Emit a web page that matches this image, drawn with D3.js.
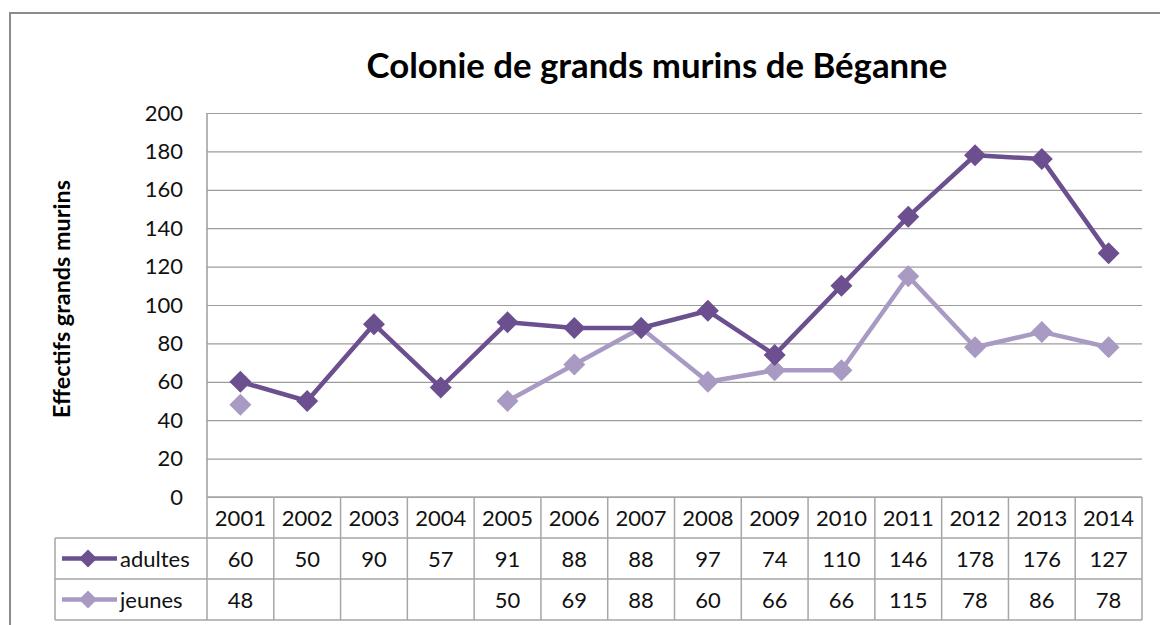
<!DOCTYPE html>
<html>
<head>
<meta charset="utf-8">
<script src="https://cdn.jsdelivr.net/npm/d3@7"></script>
<style>
  html, body { margin: 0; padding: 0; background: #fff; }
  svg { display: block; font-family: Lato, "Open Sans", sans-serif; }
</style>
</head>
<body>
<svg id="chart" width="1160" height="625"></svg>
<script>
const title = "Colonie de grands murins de Béganne";
const yTitle = "Effectifs grands murins";
const years = ["2001","2002","2003","2004","2005","2006","2007","2008","2009","2010","2011","2012","2013","2014"];
const adultes = [60, 50, 90, 57, 91, 88, 88, 97, 74, 110, 146, 178, 176, 127];
const jeunes = [48, null, null, null, 50, 69, 88, 60, 66, 66, 115, 78, 86, 78];
const yTicks = [0, 20, 40, 60, 80, 100, 120, 140, 160, 180, 200];
const seriesNames = ["adultes", "jeunes"];
const seriesColors = ["#6b4f8f", "#a99ac3"];

(function () {
const svg = d3.select("#chart");
const pLeft = 207, pRight = 1142, pTop = 113, pBottom = 497;
const rowH = 41;
const legendLeft = 55;

// outer frame
svg.append("rect").attr("x", 10).attr("y", 13).attr("width", 1200).attr("height", 700)
  .attr("fill", "none").attr("stroke", "#8c8c8c").attr("stroke-width", 2);

const x = d3.scaleBand().domain(years).range([pLeft, pRight]);
const y = d3.scaleLinear().domain([0, 200]).range([pBottom, pTop]);

// title
const t = svg.append("text").attr("x", 657).attr("y", 78).attr("text-anchor", "middle")
  .attr("font-weight", "bold").attr("font-size", 30).attr("fill", "#000").text(title);
let w = t.node().getComputedTextLength();
t.attr("font-size", 30 * 581 / w);

// y axis with grid
const yAxis = d3.axisLeft(y).tickValues(yTicks).tickSize(-(pRight - pLeft)).tickPadding(24);
const gy = svg.append("g").attr("transform", `translate(${pLeft},0)`).call(yAxis);
gy.select(".domain").remove();
gy.selectAll(".tick line").attr("stroke", "#9c9c9c").attr("stroke-width", 1.2);
gy.selectAll(".tick text").attr("font-size", 22).attr("fill", "#111")
  .attr("font-family", "Lato, 'Open Sans', sans-serif");
svg.append("line").attr("x1", pLeft).attr("x2", pLeft).attr("y1", pTop).attr("y2", pBottom)
  .attr("stroke", "#9c9c9c").attr("stroke-width", 1.5);

// y title
const yt = svg.append("text").attr("transform", `translate(70,299) rotate(-90)`)
  .attr("text-anchor", "middle").attr("font-weight", "bold").attr("font-size", 20)
  .attr("fill", "#000").text(yTitle);
w = yt.node().getComputedTextLength();
yt.attr("font-size", 20 * 238 / w);

// series
const data = [adultes, jeunes];
const cx = (i) => x(years[i]) + x.bandwidth() / 2;
function diamondPath(r) { return `M0,${-r}L${r},0L0,${r}L${-r},0Z`; }

const line = d3.line().defined(d => d != null).x((d, i) => cx(i)).y(d => y(d));
[1, 0].forEach(s => {
  const vals = data[s];
  svg.append("path").datum(vals).attr("d", line).attr("fill", "none")
    .attr("stroke", seriesColors[s]).attr("stroke-width", 4.5).attr("stroke-linejoin", "round");
  svg.append("g").selectAll("path").data(vals.map((v, i) => ({v, i})).filter(d => d.v != null))
    .join("path").attr("transform", d => `translate(${cx(d.i)},${y(d.v)})`)
    .attr("d", diamondPath(11)).attr("fill", seriesColors[s]);
});

// data table
const tbl = svg.append("g");
const gridCol = "#a6a6a6";
const rowsY = [pBottom, pBottom + rowH, pBottom + 2 * rowH, pBottom + 3 * rowH];
tbl.append("line").attr("x1", pLeft).attr("x2", pRight).attr("y1", rowsY[0]).attr("y2", rowsY[0])
  .attr("stroke", gridCol).attr("stroke-width", 1.5);
[1, 2, 3].forEach(k => {
  tbl.append("line").attr("x1", legendLeft).attr("x2", pRight).attr("y1", rowsY[k]).attr("y2", rowsY[k])
    .attr("stroke", gridCol).attr("stroke-width", 1.5);
});
const vx = years.map(yr => x(yr)).concat([pRight]);
vx.forEach(v => {
  tbl.append("line").attr("x1", v).attr("x2", v).attr("y1", rowsY[0]).attr("y2", rowsY[3])
    .attr("stroke", gridCol).attr("stroke-width", 1.5);
});
tbl.append("line").attr("x1", legendLeft).attr("x2", legendLeft).attr("y1", rowsY[1]).attr("y2", rowsY[3])
  .attr("stroke", gridCol).attr("stroke-width", 1.5);

tbl.selectAll("text.hdr").data(years).join("text").attr("class", "hdr")
  .attr("x", d => x(d) + x.bandwidth() / 2).attr("y", rowsY[0] + rowH / 2 + 8)
  .attr("text-anchor", "middle").attr("font-size", 22).attr("fill", "#111").text(d => d);

data.forEach((vals, s) => {
  const ry = rowsY[s + 1];
  tbl.append("g").selectAll("text").data(vals.map((v, i) => ({v, i})).filter(d => d.v != null))
    .join("text").attr("x", d => cx(d.i)).attr("y", ry + rowH / 2 + 8)
    .attr("text-anchor", "middle").attr("font-size", 22).attr("fill", "#111").text(d => d.v);
  const my = ry + rowH / 2;
  tbl.append("line").attr("x1", 62).attr("x2", 117).attr("y1", my).attr("y2", my)
    .attr("stroke", seriesColors[s]).attr("stroke-width", 4.5);
  tbl.append("path").attr("transform", `translate(88,${my})`).attr("d", diamondPath(9))
    .attr("fill", seriesColors[s]);
  tbl.append("text").attr("x", 120).attr("y", my + 8).attr("font-size", 22).attr("fill", "#111")
    .text(seriesNames[s]);
});
})();
</script>
</body>
</html>
